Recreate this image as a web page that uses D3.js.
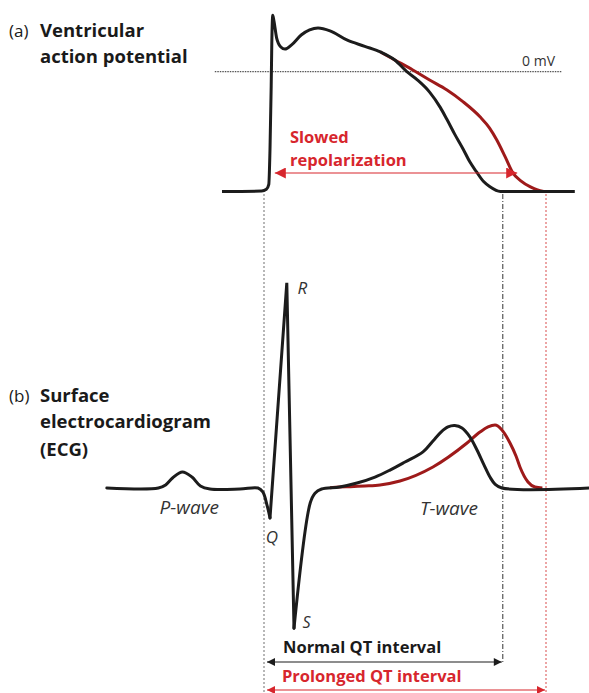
<!DOCTYPE html>
<html><head><meta charset="utf-8">
<script src="https://cdn.jsdelivr.net/npm/d3@7"></script>
<style>body{margin:0;background:#fff}svg{display:block}text{font-family:"Open Sans",sans-serif}</style>
</head><body>
<svg id="c" width="589" height="693"></svg>
<script>
// time in ms (0 = Q onset), values in mV
const apNormal = [[-35,-85],[-2,-84.7],[2,-83.5],[4,-80],[5,-55],[6,-10],[6.5,20],[7.3,40],[8.3,36],[10.5,24],[14,17.5],[17.5,16],[23,19],[31,26],[38,29.6],[45,31],[55,29],[69,22.5],[84,18],[97,14],[109,8.3],[119,0],[128,-6],[138,-14.5],[147,-25.5],[152.5,-34],[159,-44.5],[166,-55],[171.5,-64],[177,-71],[183,-78],[188,-81.5],[197,-85],[259,-85]];
const apProlonged = [[97,14],[109,8.3],[124,1.2],[138,-5.9],[152.5,-13],[166,-21.4],[180,-32],[188,-40],[194,-48.5],[201,-60.5],[207.5,-72],[214,-77.5],[222,-81.8],[228,-84],[233,-85]];
const ecgNormal = [[-131,0],[-88,0],[-82,0.018],[-76,0.06],[-68,0.094],[-60,0.064],[-53,0.012],[-45,-0.006],[-20,-0.006],[-5,0],[-1,-0.023],[2.5,-0.1],[5,-0.175],[19,1.20],[25,-0.82],[38.5,-0.088],[42.5,-0.03],[48,-0.006],[63,0.006],[77.5,0.029],[92.5,0.064],[105,0.105],[117.5,0.152],[132.5,0.211],[140.8,0.275],[147.5,0.327],[153.3,0.357],[159,0.365],[165,0.351],[171.7,0.298],[177.5,0.222],[183.3,0.135],[188.3,0.064],[192.5,0.023],[198.3,0],[271,0]];
const ecgProlonged = [[55,0.002],[63,0.006],[72,0.008],[84,0.012],[96.7,0.018],[113.3,0.041],[140.8,0.123],[169.2,0.263],[180,0.327],[186.7,0.357],[192.5,0.368],[198.3,0.339],[205,0.263],[210,0.187],[213.3,0.123],[220,0.035],[225.8,0.006],[232,0]];
const qtNormal = [0, 199];
const qtProlonged = [0, 235];
const apLabels = ["(a)", "Ventricular", "action potential"];
const ecgLabels = ["(b)", "Surface", "electrocardiogram", "(ECG)"];
const waveLabels = [{t:-87,v:-0.15,s:"P-wave",fs:19},{t:130,v:-0.16,s:"T-wave",fs:19},{t:28,v:1.135,s:"R",fs:17},{t:1.5,v:-0.32,s:"Q",fs:17},{t:32,v:-0.82,s:"S",fs:16}];

const svg = d3.select("#c");
const x = d3.scaleLinear().domain([0, 200]).range([264, 504]);
const yAP = d3.scaleLinear().domain([-90, 40]).range([198.5, 15.3]);
const yE = d3.scaleLinear().domain([-1, 1.3]).range([659, 265.7]);
const BLACK = "#1c1c1c", DRED = "#9e1a1a", RED = "#d7262d";

const defs = svg.append("defs");
function marker(id, col, w, h){
  defs.append("marker").attr("id", id).attr("viewBox","0 0 10 10").attr("refX",10).attr("refY",5)
   .attr("markerWidth",w).attr("markerHeight",h).attr("markerUnits","userSpaceOnUse").attr("orient","auto-start-reverse")
   .append("path").attr("d","M0,0L10,5L0,10z").attr("fill", col);
}
marker("ab", BLACK, 10, 8); marker("ar", RED, 10, 8); marker("ar2", RED, 12, 11);

// vertical guide lines
svg.append("line").attr("x1", x(0)).attr("x2", x(0)).attr("y1", 194).attr("y2", 693)
  .attr("stroke","#888").attr("stroke-width",1.2).attr("stroke-dasharray","2,2");
svg.append("line").attr("x1", x(qtNormal[1])).attr("x2", x(qtNormal[1])).attr("y1", 194).attr("y2", 662)
  .attr("stroke","#333").attr("stroke-width",1).attr("stroke-dasharray","5,2,1,2");
svg.append("line").attr("x1", x(qtProlonged[1])).attr("x2", x(qtProlonged[1])).attr("y1", 194).attr("y2", 693)
  .attr("stroke","#e06a6a").attr("stroke-width",1.2).attr("stroke-dasharray","2,2");

// 0 mV line
svg.append("line").attr("x1", x(-41)).attr("x2", x(248)).attr("y1", yAP(0)).attr("y2", yAP(0))
  .attr("stroke","#555").attr("stroke-width",1.2).attr("stroke-dasharray","1.5,1");
svg.append("text").attr("x", 555).attr("y", yAP(0)-6).attr("text-anchor","end")
  .attr("font-size",14).attr("fill","#333").text("0 mV");

const lineAP = d3.line().x(d=>x(d[0])).y(d=>yAP(d[1])).curve(d3.curveMonotoneX);
const lineE = d3.line().x(d=>x(d[0])).y(d=>yE(d[1])).curve(d3.curveMonotoneX);
const lineELin = d3.line().x(d=>x(d[0])).y(d=>yE(d[1])).curve(d3.curveCatmullRom.alpha(0.5));

svg.append("path").attr("d", lineAP(apProlonged)).attr("fill","none").attr("stroke",DRED).attr("stroke-width",3);
svg.append("path").attr("d", lineAP(apNormal)).attr("fill","none").attr("stroke",BLACK).attr("stroke-width",3).attr("stroke-linejoin","round");

svg.append("path").attr("d", lineE(ecgProlonged)).attr("fill","none").attr("stroke",DRED).attr("stroke-width",3);
// ECG: QRS straight segments, rest smooth
const qrsStart = ecgNormal.findIndex(d=>d[0]===5), qrsEnd = ecgNormal.findIndex(d=>d[0]===25);
const pre = ecgNormal.slice(0, qrsStart+1), qrs = ecgNormal.slice(qrsStart, qrsEnd+1), post = ecgNormal.slice(qrsEnd);
const lin = d3.line().x(d=>x(d[0])).y(d=>yE(d[1]));
const pathE = svg.append("g").attr("fill","none").attr("stroke",BLACK).attr("stroke-width",3).attr("stroke-linejoin","round").attr("stroke-linecap","round");
pathE.append("path").attr("d", lineELin(pre));
pathE.append("path").attr("d", lin(qrs)).attr("stroke-linejoin","miter").attr("stroke-miterlimit",20);
pathE.append("path").attr("d", lineELin(post));

// arrows
svg.append("line").attr("x1", x(9)).attr("x2", x(211)).attr("y1", 173).attr("y2", 173)
  .attr("stroke",RED).attr("stroke-width",1.2).attr("marker-start","url(#ar2)").attr("marker-end","url(#ar2)");
svg.append("line").attr("x1", x(qtNormal[0])+3).attr("x2", x(qtNormal[1])-1).attr("y1", 662).attr("y2", 662)
  .attr("stroke",BLACK).attr("stroke-width",1.2).attr("marker-start","url(#ab)").attr("marker-end","url(#ab)");
svg.append("line").attr("x1", x(qtProlonged[0])+3).attr("x2", x(qtProlonged[1])-1).attr("y1", 690).attr("y2", 690)
  .attr("stroke",RED).attr("stroke-width",1.2).attr("marker-start","url(#ar)").attr("marker-end","url(#ar)");

// texts
function label(tx, ty, s, fs, bold, col){
  return svg.append("text").attr("x", tx).attr("y", ty).attr("font-size", fs)
    .attr("font-weight", bold?700:400).attr("fill", col||"#1a1a1a").text(s);
}
label(9, 37, apLabels[0], 17, 0);
label(40, 37, apLabels[1], 18.5, 1);
label(40, 63, apLabels[2], 18.5, 1);
label(9, 402, ecgLabels[0], 17, 0);
label(40, 402, ecgLabels[1], 18.5, 1);
label(40, 428, ecgLabels[2], 18.5, 1);
label(40, 456, ecgLabels[3], 18.5, 1);

label(290, 143, "Slowed", 16.5, 1, RED);
label(290, 166, "repolarization", 16.5, 1, RED);
label(283, 653, "Normal QT interval", 16.5, 1, "#1a1a1a");
label(282, 682, "Prolonged QT interval", 16.5, 1, RED);

waveLabels.forEach(w=>{
  svg.append("text").attr("x", x(w.t)).attr("y", yE(w.v)).attr("font-style","italic")
    .attr("font-size", w.fs).attr("fill","#333").text(w.s);
});
</script>
</body></html>
